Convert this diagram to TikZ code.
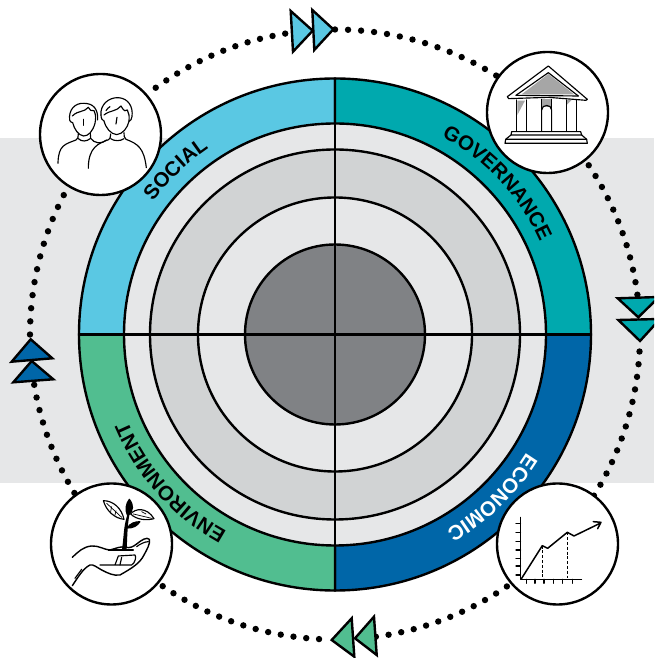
\documentclass[tikz,border=0pt]{standalone}
\usepackage{fontspec}
\setmainfont{Liberation Sans}
\usetikzlibrary{decorations.text}
\definecolor{socialc}{HTML}{5AC8E3}
\definecolor{govc}{HTML}{00A9AE}
\definecolor{econc}{HTML}{0066A8}
\definecolor{envc}{HTML}{51BE90}
\definecolor{bandc}{HTML}{E6E7E8}
\definecolor{ringc}{HTML}{D1D3D4}
\definecolor{corec}{HTML}{808285}
\newcommand{\bandfont}{\fontsize{20.5pt}{22pt}\selectfont\bfseries}
\tikzset{
  x=1pt,y=1pt,
  ringline/.style={draw=black,line width=2.4pt},
  ringnode/.style={circle,ringline,inner sep=0pt,outer sep=0pt},
  iconnode/.style={circle,draw=black,line width=2.4pt,fill=white,inner sep=0pt,outer sep=0pt,minimum size=121pt},
  tri/.style={draw=black,line width=2.4pt,line join=miter},
  ink/.style={draw=black,line width=1.15pt,line cap=round,line join=round},
  thin ink/.style={draw=black,line width=.7pt,line cap=round,line join=round},
  zoomed/.style={x=.3333pt,y=-.3333pt},
  bandtext/.style={decorate,decoration={text along path,text align=center}}
}
\begin{document}
\begin{tikzpicture}
\useasboundingbox (0,0) rectangle (654,658);
\clip (0,0) rectangle (654,658);
\fill[bandc] (0,175) rectangle (654,520);
\coordinate (C) at (335,323.5);
% dotted ring
\foreach \s/\e/\n in {99.4/126/11,180/152.8/11,90/58.1/13,33.7/7.5/11,-3.2/-31.9/12,-55.7/-82.3/11,-124.4/-93/13,211.3/189.5/9}{
  \foreach \i in {0,...,\n}{
    \fill[black] (C) ++({\s+(\e-\s)*\i/\n}:305pt) circle[radius=3.2pt];
  }
}
% quadrants
\filldraw[ringline,fill=socialc] (C) -- ++(90:256pt) arc[start angle=90,end angle=180,radius=256pt] -- cycle;
\filldraw[ringline,fill=govc] (C) -- ++(0:256pt) arc[start angle=0,end angle=90,radius=256pt] -- cycle;
\filldraw[ringline,fill=econc] (C) -- ++(-90:256pt) arc[start angle=-90,end angle=0,radius=256pt] -- cycle;
\filldraw[ringline,fill=envc] (C) -- ++(180:256pt) arc[start angle=180,end angle=270,radius=256pt] -- cycle;
\node[ringnode,fill=bandc,minimum size=422pt] (r1) at (C) {};
\node[ringnode,fill=ringc,minimum size=370pt] (r2) at (C) {};
\node[ringnode,fill=bandc,minimum size=274pt] (r3) at (C) {};
\node[ringnode,fill=corec,minimum size=180pt] (core) at (C) {};
\draw[ringline] (C) ++(-256pt,0) -- ++(512pt,0);
\draw[ringline] (C) ++(0,-256pt) -- ++(0,512pt);
% band labels
\path[bandtext,decoration={text={|\bandfont|SOCIAL}}]
  (C) ++(165:225pt) arc[start angle=165,end angle=103,radius=225pt];
\path[bandtext,decoration={text={|\bandfont|GOVERNANCE}}]
  (C) ++(85:225pt) arc[start angle=85,end angle=1,radius=225pt];
\path[bandtext,decoration={text={|\bandfont\color{white}|ECONOMIC}}]
  (C) ++(-4:225pt) arc[start angle=-4,end angle=-88,radius=225pt];
\path[bandtext,decoration={text={|\bandfont|ENVIRONMENT}}]
  (C) ++(-92:225pt) arc[start angle=-92,end angle=-184,radius=225pt];
% icon discs
\node[iconnode] (social) at (100.5,523.5) {};
\node[iconnode] (gov) at (547.5,545.5) {};
\node[iconnode] (econ) at (557.5,114) {};
\node[iconnode] (env) at (111.5,114) {};
% arrows
\begin{scope}[shift={(0,658)},x=1pt,y=-1pt]
\filldraw[tri,fill=socialc] (290.7,11) -- (293,51.7) -- (312.7,30.7) -- cycle;
\filldraw[tri,fill=socialc] (312.3,10) -- (314.3,50) -- (333.3,29.3) -- cycle;
\filldraw[tri,fill=govc] (617.7,298.3) -- (659,297) -- (638.3,317.3) -- cycle;
\filldraw[tri,fill=govc] (618.3,320) -- (660,319) -- (640,341) -- cycle;
\filldraw[tri,fill=econc] (30.7,339.3) -- (11.7,361.7) -- (52.3,358.3) -- cycle;
\filldraw[tri,fill=econc] (31.7,361) -- (13.3,382.3) -- (53.3,379.3) -- cycle;
\filldraw[tri,fill=envc] (331.7,640) -- (351.7,618.3) -- (354.3,656.7) -- cycle;
\filldraw[tri,fill=envc] (355,638.3) -- (374,616.7) -- (376.7,655) -- cycle;
\end{scope}
% social icon
\begin{scope}[shift={(20,598)},zoomed]
\draw[ink] (243,165) .. controls (240,135) and (265,112) .. (295,113) .. controls (325,115) and (340,140) .. (336,170) .. controls (335,178) and (332,182) .. (327,184);
\draw[ink] (243,165) .. controls (243,175) and (247,182) .. (252,183) .. controls (258,205) and (272,222) .. (290,224) .. controls (308,222) and (322,205) .. (327,184) .. controls (328,170) and (328,160) .. (322,150) .. controls (318,155) and (312,155) .. (303,138) .. controls (290,155) and (270,150) .. (252,165);
\draw[ink] (270,140) .. controls (265,143) and (262,146) .. (258,152);
\draw[ink] (291,172) .. controls (290,178) and (289,185) .. (288,192);
\draw[ink] (272,222) .. controls (272,232) and (270,236) .. (266,239) .. controls (235,250) and (205,262) .. (205,325);
\draw[ink] (272,236) .. controls (282,244) and (302,244) .. (312,236);
\draw[ink] (312,218) .. controls (312,228) and (312,232) .. (318,238) .. controls (355,252) and (372,265) .. (379,323);
\draw[ink] (149,180) .. controls (145,150) and (165,128) .. (192,130) .. controls (218,130) and (235,145) .. (233,180);
\draw[ink] (149,180) .. controls (150,185) and (153,187) .. (158,188) .. controls (163,208) and (175,226) .. (191,228) .. controls (205,228) and (218,215) .. (225,190) .. controls (228,175) and (228,165) .. (222,152) .. controls (215,155) and (208,150) .. (205,142) .. controls (192,158) and (175,150) .. (157,168);
\draw[ink] (190,178) -- (190,196);
\draw[ink] (175,222) .. controls (175,232) and (174,236) .. (168,240) .. controls (135,253) and (115,255) .. (114,310);
\draw[ink] (175,236) .. controls (185,246) and (200,245) .. (212,235) .. controls (222,250) and (245,254) .. (260,240);
\draw[ink] (212,235) -- (211,220);
\end{scope}
% governance icon
\begin{scope}[shift={(430,598)},zoomed]
\fill[gray!70] (275,103) -- (355,42) -- (432,103) -- cycle;
\fill[gray!70] (335,118) rectangle (365,140);
\fill[gray!70] (262,122) -- (285,122) -- (262,165) -- cycle;
\fill[gray!70] (410,120) -- (425,120) -- (410,135) -- cycle;
\draw[ink] (232,110) -- (355,18) -- (472,118) -- (468,121) -- (355,112) -- (236,116) -- cycle;
\draw[ink] (258,106) -- (355,38) -- (445,108);
\draw[ink] (258,106) -- (445,108);
\foreach \xa in {260,290,410,440}{\draw[ink] (\xa,120) -- (\xa,213);}
\draw[ink] (335,213) -- (335,150) .. controls (335,132) and (365,132) .. (365,150) -- (365,213);
\draw[ink] (335,118) -- (335,150);
\draw[ink] (365,118) -- (365,150);
\draw[ink] (243,225) -- (245,215) -- (452,215) -- (455,225) -- cycle;
\draw[ink] (225,250) -- (227,238) -- (470,238) -- (472,250) -- cycle;
\draw[ink] (243,225) -- (227,238);
\draw[ink] (455,225) -- (470,238);
\end{scope}
% economic icon
\begin{scope}[shift={(430,218)},zoomed]
\draw[ink] (272,232) -- (272,418) -- (455,418);
\foreach \ya in {250,278,305,330,355,378,405}{\draw[ink] (258,\ya) -- (272,\ya);}
\foreach \xa in {290,315,342,370,398,428}{\draw[ink] (\xa,418) -- (\xa,430);}
\draw[ink,line width=1.5pt] (275,415) -- (337,317) -- (353,325) -- (412,277) -- (432,288) -- (510,250);
\draw[ink,line width=1.5pt] (490,245) -- (513,247) -- (503,266);
\draw[ink,dash pattern=on 3pt off 1.8pt,line cap=butt] (337,317) -- (337,415);
\draw[ink,dash pattern=on 3pt off 1.8pt,line cap=butt] (412,277) -- (412,415);
\end{scope}
% environment icon
\begin{scope}[shift={(40,218)},zoomed]
\fill[black] (246,328) .. controls (252,290) and (250,260) .. (262,225) -- (268,225) .. controls (262,260) and (262,290) .. (260,328) -- cycle;
\draw[ink,fill=white] (252,238) .. controls (225,235) and (200,215) .. (190,182) .. controls (220,182) and (245,205) .. (252,238) -- cycle;
\draw[thin ink] (200,190) -- (245,232);
\draw[thin ink] (215,200) -- (212,215);
\draw[thin ink] (228,212) -- (225,225);
\draw[ink,fill=black] (262,225) .. controls (255,210) and (258,190) .. (268,178) .. controls (282,195) and (280,212) .. (266,225) -- cycle;
\draw[ink,fill=white] (272,222) .. controls (285,205) and (320,200) .. (342,236) .. controls (320,242) and (290,240) .. (272,222) -- cycle;
\draw[thin ink] (280,222) -- (335,235);
\draw[thin ink] (305,215) -- (318,222);
\draw[ink,fill=black] (262,264) .. controls (270,250) and (285,245) .. (300,245) .. controls (292,258) and (278,265) .. (262,264) -- cycle;
\draw[ink,line width=1.4pt] (97,352) .. controls (115,335) and (130,320) .. (155,318) .. controls (175,316) and (195,330) .. (210,330) .. controls (230,325) and (240,318) .. (258,322) .. controls (270,325) and (280,320) .. (290,312) .. controls (305,300) and (320,290) .. (328,298) .. controls (332,310) and (320,330) .. (312,345) .. controls (300,370) and (275,385) .. (240,405) .. controls (220,408) and (205,400) .. (185,390) .. controls (170,382) and (160,372) .. (150,375) .. controls (130,385) and (115,410) .. (97,437);
\draw[ink] (105,415) -- (125,388);
\draw[ink] (180,375) -- (275,375) .. controls (285,370) and (290,350) .. (285,345) -- (235,348) -- (225,375);
\draw[ink] (290,320) .. controls (300,312) and (315,305) .. (325,305);
\draw[ink] (205,330) -- (280,330);
\draw[ink] (245,352) -- (240,375);
\end{scope}
\end{tikzpicture}
\end{document}
